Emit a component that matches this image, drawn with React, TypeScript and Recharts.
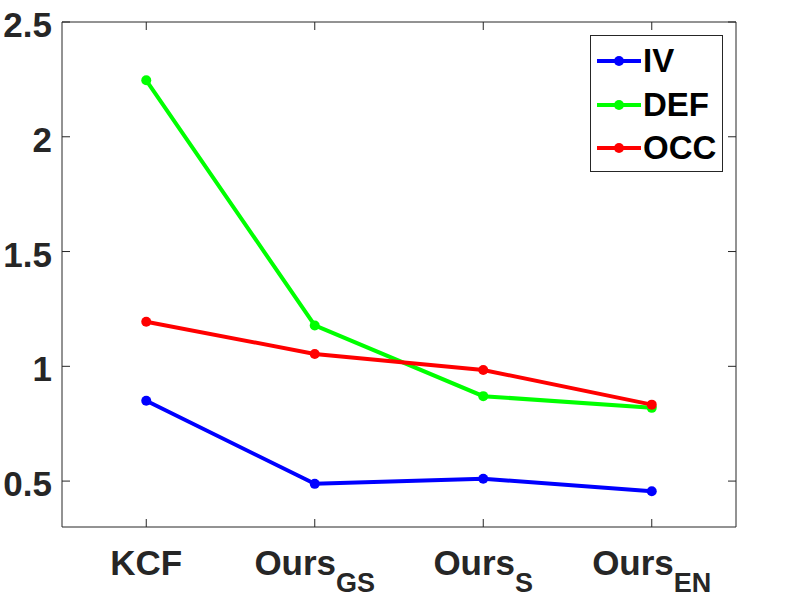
import React from 'react';
import { LineChart, Line, XAxis, YAxis, Legend } from 'recharts';

const xPositions = [1, 2, 3, 4];
const labelMain = ['KCF', 'Ours', 'Ours', 'Ours'];
const labelSub = ['', 'GS', 'S', 'EN'];
const ivValues = [0.85, 0.488, 0.51, 0.456];
const defValues = [2.246, 1.178, 0.87, 0.819];
const occValues = [1.194, 1.054, 0.984, 0.833];
const yTicks = [0.5, 1, 1.5, 2, 2.5];
const yTickLabels = ['0.5', '1', '1.5', '2', '2.5'];
const seriesNames = ['IV', 'DEF', 'OCC'];
const seriesColors = ['#0000FF', '#00FF00', '#FF0000'];

const data = xPositions.map((x, i) => ({
  x,
  IV: ivValues[i],
  DEF: defValues[i],
  OCC: occValues[i],
}));

const FONT = '"Liberation Sans", Arial, Helvetica, sans-serif';
const AX = '#262626';

const BottomTick = (props: any) => {
  const { x, y, payload } = props;
  const i = xPositions.indexOf(payload.value);
  return (
    <g>
      <line x1={x} y1={y} x2={x} y2={y - 8} stroke={AX} strokeWidth={1} />
      <text
        x={x}
        y={y + 48}
        textAnchor="middle"
        fontFamily={FONT}
        fontWeight="bold"
        fontSize={35}
        fill={AX}
      >
        <tspan>{labelMain[i]}</tspan>
        {labelSub[i] ? (
          <tspan dy={17} fontSize={27}>
            {labelSub[i]}
          </tspan>
        ) : null}
      </text>
    </g>
  );
};

const TopTick = (props: any) => {
  const { x, y } = props;
  return <line x1={x} y1={y} x2={x} y2={y + 8} stroke={AX} strokeWidth={1} />;
};

const LeftTick = (props: any) => {
  const { x, y, payload } = props;
  const i = yTicks.indexOf(payload.value);
  return (
    <g>
      <line x1={x} y1={y} x2={x + 8} y2={y} stroke={AX} strokeWidth={1} />
      <text
        x={x - 10}
        y={y + 15}
        textAnchor="end"
        fontFamily={FONT}
        fontWeight="bold"
        fontSize={35}
        fill={AX}
      >
        {yTickLabels[i]}
      </text>
    </g>
  );
};

const RightTick = (props: any) => {
  const { x, y } = props;
  return <line x1={x} y1={y} x2={x - 8} y2={y} stroke={AX} strokeWidth={1} />;
};

const LegendBox = () => (
  <div
    style={{
      width: 131,
      height: 135,
      border: `1px solid ${AX}`,
      background: '#fff',
      position: 'relative',
      boxSizing: 'content-box',
    }}
  >
    {seriesNames.map((name, i) => (
      <div
        key={name}
        style={{
          position: 'absolute',
          left: 0,
          top: 25 + i * 43.5 - 20,
          height: 40,
          display: 'flex',
          alignItems: 'center',
        }}
      >
        <svg width={52} height={40} style={{ display: 'block' }}>
          <line x1={6} y1={20} x2={50} y2={20} stroke={seriesColors[i]} strokeWidth={4} />
          <circle cx={28} cy={20} r={5} fill={seriesColors[i]} />
        </svg>
        <span
          style={{
            fontFamily: FONT,
            fontWeight: 'bold',
            fontSize: 33,
            color: '#000',
            lineHeight: '40px',
            marginLeft: 0,
          }}
        >
          {name}
        </span>
      </div>
    ))}
  </div>
);

export default function App() {
  return (
    <div style={{ position: 'absolute', left: 0, top: 0, width: 800, height: 600, background: '#fff' }}>
      <LineChart
        width={800}
        height={600}
        data={data}
        margin={{ top: 21, right: 63, left: 0, bottom: 0 }}
      >
        <XAxis
          dataKey="x"
          type="number"
          domain={[0.5, 4.5]}
          ticks={xPositions}
          height={73}
          tickSize={0}
          tickMargin={0}
          tickLine={false}
          axisLine={{ stroke: AX, strokeWidth: 1 }}
          tick={<BottomTick />}
          interval={0}
          allowDataOverflow
        />
        <XAxis
          xAxisId="top"
          orientation="top"
          dataKey="x"
          type="number"
          domain={[0.5, 4.5]}
          ticks={xPositions}
          height={1}
          tickSize={0}
          tickMargin={0}
          tickLine={false}
          axisLine={{ stroke: AX, strokeWidth: 1 }}
          tick={<TopTick />}
          interval={0}
          allowDataOverflow
        />
        <YAxis
          type="number"
          domain={[0.3, 2.5]}
          ticks={yTicks}
          width={62}
          tickSize={0}
          tickMargin={0}
          tickLine={false}
          axisLine={{ stroke: AX, strokeWidth: 1 }}
          tick={<LeftTick />}
          interval={0}
          allowDataOverflow
        />
        <YAxis
          yAxisId="right"
          orientation="right"
          type="number"
          domain={[0.3, 2.5]}
          ticks={yTicks}
          width={1}
          tickSize={0}
          tickMargin={0}
          tickLine={false}
          axisLine={{ stroke: AX, strokeWidth: 1 }}
          tick={<RightTick />}
          interval={0}
          allowDataOverflow
        />
        {seriesNames.map((name, i) => (
          <Line
            key={name}
            type="linear"
            dataKey={name}
            stroke={seriesColors[i]}
            strokeWidth={4}
            dot={{ r: 5, fill: seriesColors[i], stroke: seriesColors[i], strokeWidth: 0 }}
            activeDot={false}
            isAnimationActive={false}
          />
        ))}
        <Legend
          layout="vertical"
          align="center"
          verticalAlign="middle"
          wrapperStyle={{ left: 590, top: 35, width: 133, height: 137 }}
          content={<LegendBox />}
        />
      </LineChart>
    </div>
  );
}
